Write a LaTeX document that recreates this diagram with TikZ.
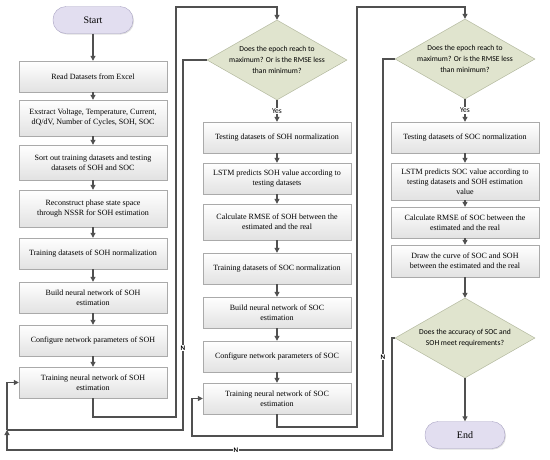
\documentclass[tikz,border=0pt]{standalone}
\usepackage{fontspec}
\setmainfont{Liberation Serif}
\newfontfamily\calibrifont{Carlito}
\usetikzlibrary{arrows,arrows.meta,positioning,shapes,shadows}
\definecolor{linegray}{RGB}{80,80,80}
\definecolor{boxline}{RGB}{170,170,170}
\definecolor{boxbottom}{RGB}{226,226,226}
\definecolor{olive}{RGB}{224,228,206}
\definecolor{oliveline}{RGB}{168,174,146}
\definecolor{lavender}{RGB}{226,222,240}
\definecolor{lavline}{RGB}{168,162,194}

\begin{document}
\begin{tikzpicture}[x=1pt,y=-1pt,>={Triangle[length=5pt,width=5pt]},
  stepbox/.style={rectangle,draw=boxline,top color=white,bottom color=boxbottom,
    minimum width=148pt,minimum height=31pt,inner sep=1pt,align=center,
    font=\fontsize{8}{10}\selectfont,
    drop shadow={shadow xshift=1pt,shadow yshift=-1pt,opacity=0.25}},
  decision/.style={diamond,aspect=1.75,draw=oliveline,fill=olive,minimum width=140pt,
    minimum height=80pt,inner sep=-6pt,align=center,
    font=\calibrifont\fontsize{7.6}{11}\selectfont},
  term/.style={rectangle,rounded corners=13pt,draw=lavline,fill=lavender,
    minimum width=80pt,minimum height=27pt,font=\fontsize{10}{12}\selectfont,
    drop shadow={shadow xshift=1pt,shadow yshift=-1pt,opacity=0.25}},
  wire/.style={draw=linegray,line width=1.1pt},
  link/.style={wire,->},
  nlabel/.style={fill=white,inner sep=0.6pt,font=\calibrifont\bfseries\fontsize{7}{8}\selectfont},
  yeslabel/.style={fill=white,inner sep=0.6pt,font=\calibrifont\fontsize{7.5}{8}\selectfont}]
  \useasboundingbox (0,0) rectangle (550,459);

  % first column: SOH training
  \node[term] (start) at (93,20) {Start};
  \node[stepbox] (read) at (93,76.5) {Read Datasets from Excel};
  \node[stepbox,minimum height=36pt] (extract) at (93,118) {Exstract Voltage, Temperature, Current,\\ dQ/dV, Number of Cycles, SOH, SOC};
  \node[stepbox,minimum height=35pt] (sort) at (93,162.5) {Sort out training datasets and testing\\ datasets of SOH and SOC};
  \node[stepbox,minimum height=37pt] (recon) at (93,208.5) {Reconstruct phase state space\\ through NSSR for SOH estimation};
  \node[stepbox] (normsoh) at (93,253.5) {Training datasets of SOH normalization};
  \node[stepbox] (buildsoh) at (93,297.5) {Build neural network of SOH\\ estimation};
  \node[stepbox] (confsoh) at (93,340.5) {Configure network parameters of SOH};
  \node[stepbox] (trainsoh) at (93,382.5) {Training neural network of SOH\\ estimation};

  % second column: SOH testing, SOC training
  \node[decision] (epochsoh) at (277,60) {Does the epoch reach to\\ maximum? Or is the RMSE less\\ than minimum?};
  \node[stepbox] (testsoh) at (277,137.5) {Testing datasets of SOH normalization};
  \node[stepbox] (lstmsoh) at (277,178.5) {LSTM predicts SOH value according to\\ testing datasets};
  \node[stepbox,minimum height=36pt] (rmsesoh) at (277,222) {Calculate RMSE of SOH between the\\ estimated and the real};
  \node[stepbox] (normsoc) at (277,268.5) {Training datasets of SOC normalization};
  \node[stepbox] (buildsoc) at (277,312.5) {Build neural network of SOC\\ estimation};
  \node[stepbox] (confsoc) at (277,356.5) {Configure network parameters of SOC};
  \node[stepbox] (trainsoc) at (277,398.5) {Training neural network of SOC\\ estimation};

  % third column: SOC testing
  \node[decision] (epochsoc) at (465,59) {Does the epoch reach to\\ maximum? Or is the RMSE less\\ than minimum?};
  \node[stepbox] (testsoc) at (465,137.5) {Testing datasets of SOC normalization};
  \node[stepbox,minimum height=37pt] (lstmsoc) at (465,181.5) {LSTM predicts SOC value according to\\ testing datasets and SOH estimation\\ value};
  \node[stepbox] (rmsesoc) at (465,222.5) {Calculate RMSE of SOC between the\\ estimated and the real};
  \node[stepbox,minimum height=32pt] (curve) at (465,261) {Draw the curve of SOC and SOH\\ between the estimated and the real};
  \node[decision] (accuracy) at (465,338) {Does the accuracy of SOC and\\ SOH meet requirements?};
  \node[term] (finish) at (465,435) {End};

  \draw[link] (start) -- (read);
  \draw[link] (read) -- (extract);
  \draw[link] (extract) -- (sort);
  \draw[link] (sort) -- (recon);
  \draw[link] (recon) -- (normsoh);
  \draw[link] (normsoh) -- (buildsoh);
  \draw[link] (buildsoh) -- (confsoh);
  \draw[link] (confsoh) -- (trainsoh);
  \draw[link] (epochsoh) -- node[yeslabel] (yessoh) {Yes} (testsoh);
  \draw[link] (testsoh) -- (lstmsoh);
  \draw[link] (lstmsoh) -- (rmsesoh);
  \draw[link] (rmsesoh) -- (normsoc);
  \draw[link] (normsoc) -- (buildsoc);
  \draw[link] (buildsoc) -- (confsoc);
  \draw[link] (confsoc) -- (trainsoc);
  \draw[link] (epochsoc) -- node[yeslabel] (yessoc) {Yes} (testsoc);
  \draw[link] (testsoc) -- (lstmsoc);
  \draw[link] (lstmsoc) -- (rmsesoc);
  \draw[link] (rmsesoc) -- (curve);
  \draw[link] (curve) -- (accuracy);
  \draw[link] (accuracy) -- (finish);

  % loops back to the decisions
  \coordinate (loopsoha) at (176,417);
  \coordinate (loopsohb) at (277,7);
  \draw[link] (trainsoh.south) |- (loopsoha) |- (loopsohb) -- (epochsoh.north);
  \coordinate (loopsoca) at (357,427);
  \coordinate (loopsocb) at (465,7);
  \draw[link] (trainsoc.south) |- (loopsoca) |- (loopsocb) -- (epochsoc.north);

  % N branches
  \coordinate (turnsoh) at (183,430);
  \coordinate (backsoh) at (7,430);
  \draw[wire] (epochsoh.west) -| (turnsoh) -- (backsoh);
  \coordinate (turnsoc) at (383,436);
  \coordinate (backsoc) at (192,436);
  \draw[link] (epochsoc.west) -| (turnsoc) -- (backsoc) |- (trainsoc.west);
  \coordinate (turnacc) at (392,450);
  \coordinate (backacc) at (7,450);
  \draw[link] (accuracy.west) -| (turnacc) -- (backacc) -- (backsoh);
  \draw[link] (backsoh) |- (trainsoh.west);
  \node[nlabel] (nsoh) at (183,348) {N};
  \node[nlabel] (nsoc) at (383,357) {N};
  \node[nlabel] (nacc) at (236,450) {N};
\end{tikzpicture}
\end{document}
